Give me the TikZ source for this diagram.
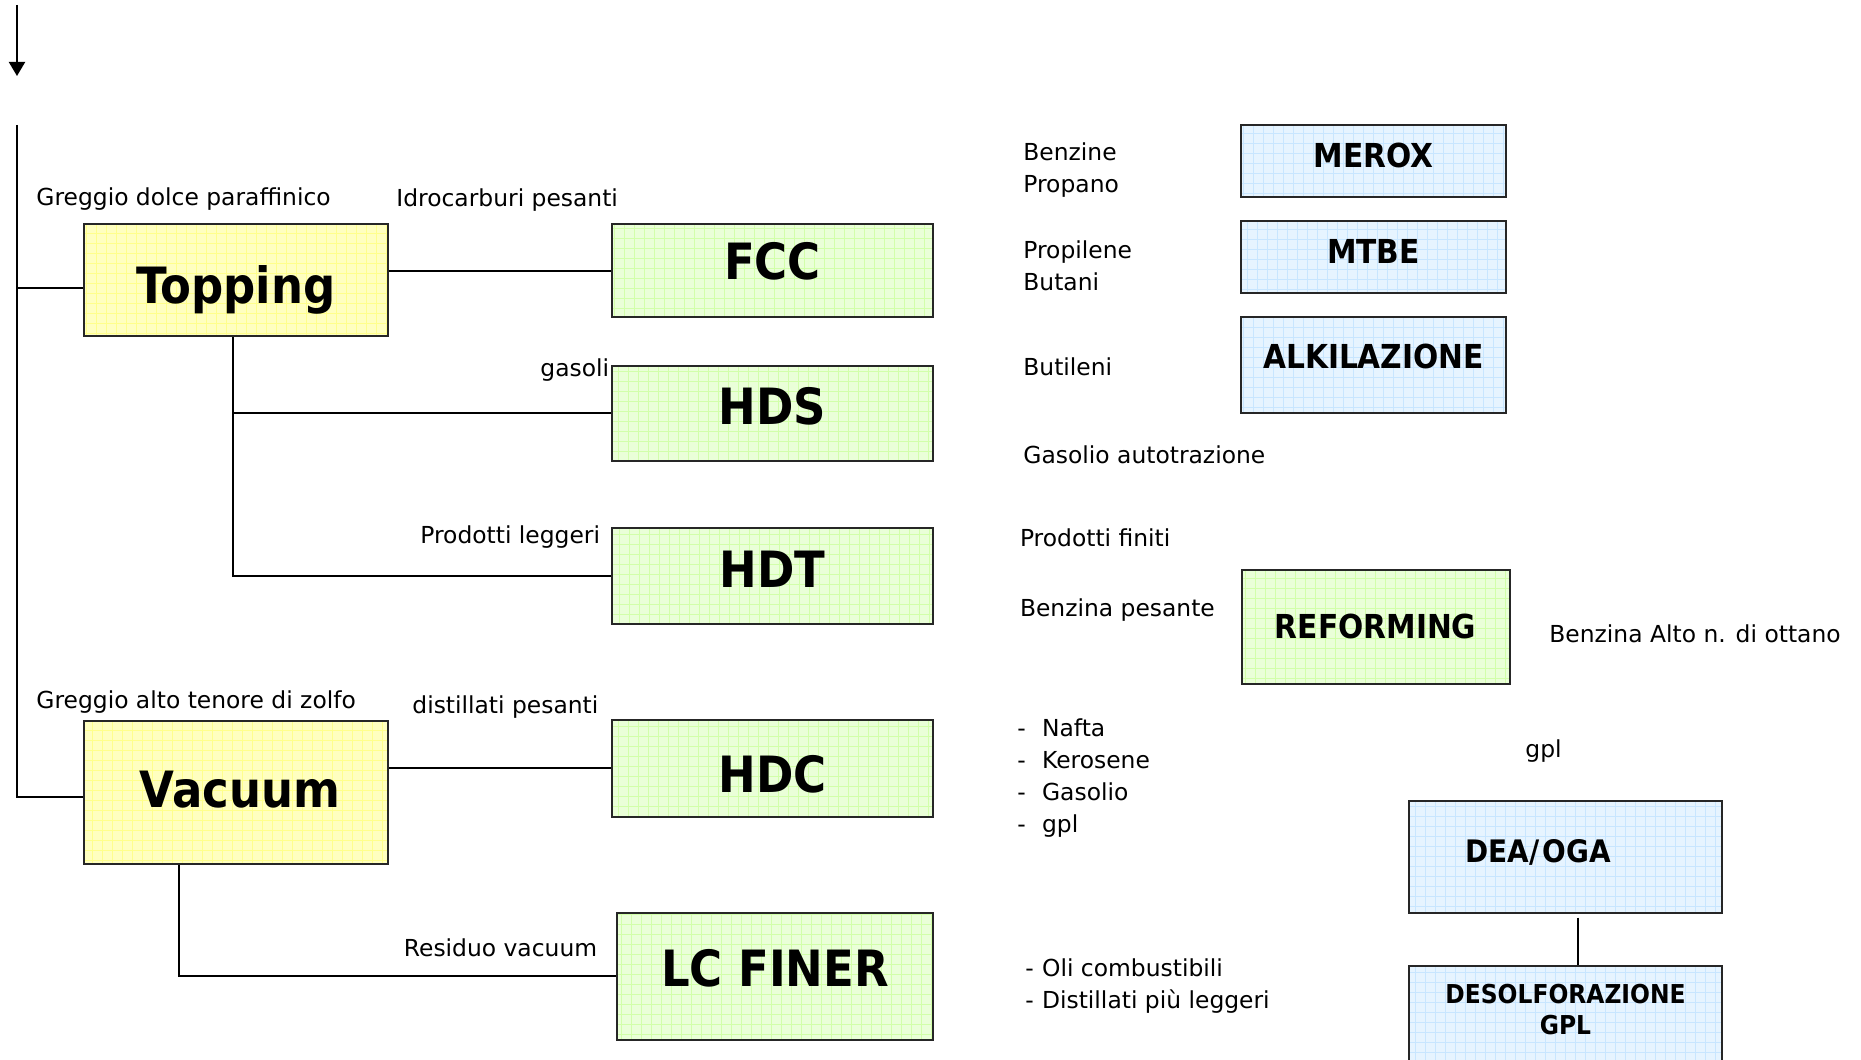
\documentclass[tikz,border=0pt]{standalone}
\usepackage{fontspec}
\setmainfont{DejaVu Sans}
\newfontfamily\boxfont{DejaVu Sans Condensed}
\usepackage{tikz}
\usetikzlibrary{positioning,arrows.meta}

\definecolor{topfill}{RGB}{255,255,192}
\definecolor{topgrid}{RGB}{255,255,140}
\definecolor{unitfill}{RGB}{234,255,216}
\definecolor{unitgrid}{RGB}{210,255,170}
\definecolor{sidefill}{RGB}{230,244,255}
\definecolor{sidegrid}{RGB}{200,230,255}

% raise a box label without changing its size
\newcommand{\nudge}[2]{\raisebox{#1}[\height][\depth]{#2}}

\tikzset{
  gridbox/.style={draw=black!85, line width=1pt, fill=#1fill, inner sep=0pt,
    path picture={\draw[#1grid, line width=0.4pt, step=5pt]
      (path picture bounding box.south west) grid (path picture bounding box.north east);}},
  plant/.style={gridbox=top, minimum width=152pt, font=\boxfont\fontsize{25}{28}\bfseries},
  unit/.style={gridbox=unit, minimum width=160.5pt, font=\boxfont\fontsize{25}{28}\bfseries},
  side/.style={gridbox=side, minimum width=132.5pt, font=\boxfont\fontsize{16.5}{19}\bfseries},
  lbl/.style={anchor=west, inner sep=0pt, align=left, font=\fontsize{11.7}{16}\selectfont},
  pipe/.style={line width=1pt}
}

\begin{document}
\begin{tikzpicture}[ x=0.5pt , y=-0.5pt , on grid ]
\clip (0,0) rectangle (1861,1059);

% crude feed
\coordinate (feed_a) at (17,5);
\coordinate (feed_b) at (17,76);
\draw [pipe, -{Triangle[width=8pt,length=7pt]}] (feed_a) -- (feed_b);
\coordinate (trunk) at (17,125);

% primary plants
\node [ plant , minimum height=56pt ] (topping) at (236,280) {\nudge{-4.75pt}{Topping}};
\node [ plant , minimum height=71.7pt ] (vacuum) at (236,792.3) {\hspace*{4pt}\nudge{1.5pt}{Vacuum}};

% conversion units
\node [ unit , minimum height=46.5pt ] (fcc) at (772.5,270.5) {\nudge{4.5pt}{FCC}};
\node [ unit , minimum height=47.5pt ] (hds) [ below = 71.25pt of fcc ] {\nudge{3.5pt}{HDS}};
\node [ unit , minimum height=48pt ] (hdt) [ below = 81.5pt of hds ] {\nudge{3.3pt}{HDT}};
\node [ unit , minimum height=48.3pt ] (hdc) [ below = 96.15pt of hdt ] {\nudge{-2.8pt}{HDC}};
\node [ unit , minimum width=158pt , minimum height=63.5pt ] (lcfiner) at (775,976.2) {\nudge{3.8pt}{LC FINER}};

% side units
\node [ side , minimum height=36.2pt ] (merox) at (1373.5,161.2) {\nudge{3pt}{MEROX}};
\node [ side , minimum height=36pt ] (mtbe) [ below = 47.9pt of merox ] {\nudge{2.7pt}{MTBE}};
\node [ side , minimum height=48.2pt ] (alkil) [ below = 53.95pt of mtbe ] {\nudge{4.4pt}{ALKILAZIONE}};
\node [ gridbox=unit , minimum width=134pt , minimum height=57pt , font=\boxfont\fontsize{16.5}{19}\bfseries ] (reforming) at (1375.6,626.7) {REFORMING};
\node [ side , minimum width=156.5pt , minimum height=56pt , font=\boxfont\fontsize{15.5}{18}\bfseries ] (deaoga) at (1565.5,856.7) {\nudge{2.2pt}{DEA/\kern1.5pt OGA}\hspace*{27.5pt}};
\node [ side , minimum width=156.5pt , minimum height=50pt , anchor=north , font=\boxfont\fontsize{13}{15.5}\bfseries ] (desolf) at (1565.5,965) {\nudge{1.5pt}{\begin{tabular}{@{}c@{}}DESOLFORAZIONE\\GPL\end{tabular}}};

% labels
\node [ lbl ] (t_dolce) at (36,199.4) {Greggio dolce paraffinico};
\node [ lbl ] (t_idro) at (396,200.4) {Idrocarburi pesanti};
\node [ lbl ] (t_gasoli) at (540,370.4) {gasoli};
\node [ lbl ] (t_leggeri) at (420,537.4) {Prodotti leggeri};
\node [ lbl ] (t_zolfo) at (36,702.4) {Greggio alto tenore di zolfo};
\node [ lbl ] (t_dist) at (412,707.4) {distillati pesanti};
\node [ lbl ] (t_residuo) at (403.5,947.4) {Residuo vacuum};
\node [ lbl ] (t_benzine) at (1023,170.4) {Benzine\\Propano};
\node [ lbl ] (t_propilene) at (1023,265.9) {Propilene\\Butani};
\node [ lbl ] (t_butileni) at (1023,366.4) {Butileni};
\node [ lbl ] (t_autotraz) at (1023,454.4) {Gasolio autotrazione};
\node [ lbl ] (t_finiti) at (1019.6,537.4) {Prodotti finiti};
\node [ lbl ] (t_pesante) at (1019.6,610.1) {Benzina pesante};
\node [ lbl ] (t_ottano) at (1549,633.8) {Benzina Alto n. di ottano};
\node [ lbl ] (t_gpl) at (1525,751.4) {gpl};
\node [ lbl ] (t_tagli) at (1017,778) {\makebox[12.35pt][l]{-}Nafta\\\makebox[12.35pt][l]{-}Kerosene\\\makebox[12.35pt][l]{-}Gasolio\\\makebox[12.35pt][l]{-}gpl};
\node [ lbl ] (t_oli) at (1025,985.9) {\makebox[8.35pt][l]{-}Oli combustibili\\\makebox[8.35pt][l]{-}Distillati più leggeri};

% lines
\coordinate (top_in) at ([yshift=-4pt]topping.west);
\coordinate (vac_in) at ([yshift=-2.5pt]vacuum.west);
\draw [pipe] (trunk) |- (vac_in);
\draw [pipe] (top_in) -- (trunk |- top_in);
\draw [pipe] (topping.east |- fcc.west) -- (fcc.west);
\coordinate (top_out) at ([xshift=-1.5pt]topping.south);
\draw [pipe] (top_out) |- (hdt.west);
\draw [pipe] (top_out |- hds.west) -- (hds.west);
\draw [pipe] (vacuum.east |- hdc.west) -- (hdc.west);
\draw [pipe] ([xshift=48pt]vacuum.south west) |- (lcfiner.west);
\draw [pipe] ([xshift=6pt,yshift=-2pt]deaoga.south) -- ([xshift=6pt]desolf.north);
\end{tikzpicture}
\end{document}
